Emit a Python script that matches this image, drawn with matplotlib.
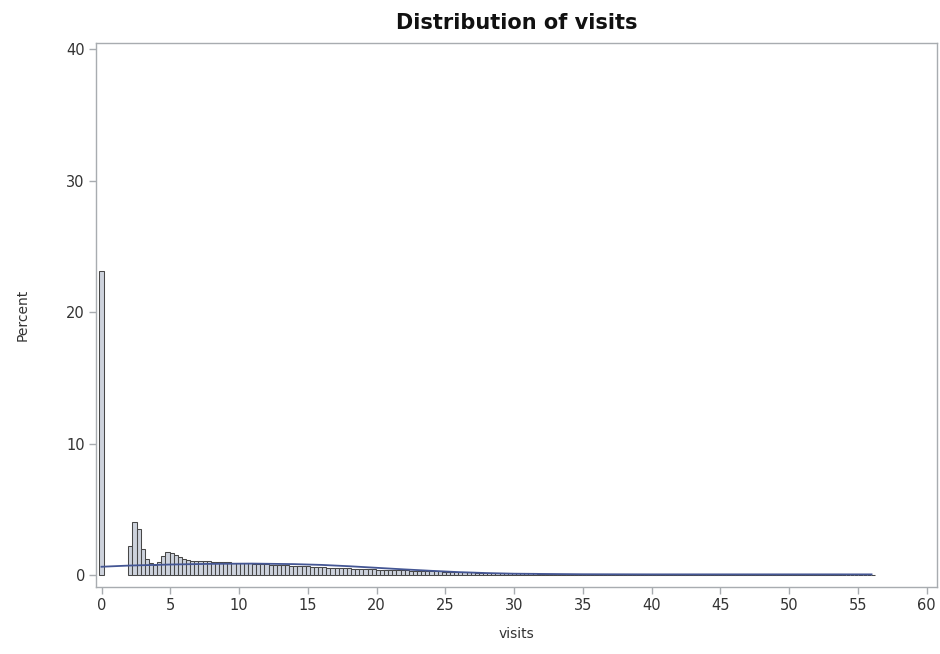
import numpy as np
import matplotlib
matplotlib.use("Agg")
import matplotlib.pyplot as plt

# Bin midpoints (bin width 0.3) and percent heights
bin_width = 0.3
bin_mid = [round(i * bin_width, 1) for i in range(188)]
percent = [
    23.1, 0, 0, 0, 0, 0, 0, 2.2, 4.0, 3.5,
    2.0, 1.2, 0.95, 0.8, 1.0, 1.45, 1.75, 1.7, 1.55, 1.35,
    1.2, 1.15, 1.1, 1.1, 1.08, 1.05, 1.05, 1.02, 1.0, 1.0,
    0.98, 0.96, 0.95, 0.93, 0.92, 0.9, 0.88, 0.87, 0.85, 0.84,
    0.82, 0.8, 0.78, 0.77, 0.75, 0.74, 0.72, 0.7, 0.69, 0.67,
    0.65, 0.64, 0.62, 0.6, 0.59, 0.57, 0.56, 0.54, 0.53, 0.51,
    0.5, 0.49, 0.47, 0.46, 0.45, 0.44, 0.43, 0.42, 0.41, 0.4,
    0.39, 0.38, 0.37, 0.36, 0.35, 0.34, 0.33, 0.32, 0.31, 0.3,
    0.29, 0.28, 0.27, 0.26, 0.25, 0.25, 0.24, 0.23, 0.22, 0.21,
    0.2, 0.19, 0.18, 0.18, 0.17, 0.16, 0.16, 0.15, 0.15, 0.14,
    0.14, 0.13, 0.13, 0.12, 0.12, 0.12, 0.11, 0.11, 0.11, 0.1,
    0.1, 0.1, 0.1, 0.09, 0.09, 0.09, 0.09, 0.09, 0.08, 0.08,
    0.08, 0.08, 0.08, 0.08, 0.08, 0.08, 0.08, 0.08, 0.08, 0.08,
    0.07, 0.07, 0.07, 0.07, 0.07, 0.07, 0.07, 0.07, 0.07, 0.07,
    0.07, 0.07, 0.07, 0.07, 0.07, 0.06, 0.06, 0.06, 0.06, 0.06,
    0.06, 0.06, 0.06, 0.06, 0.06, 0.06, 0.06, 0.06, 0.06, 0.06,
    0.05, 0.05, 0.05, 0.05, 0.05, 0.05, 0.05, 0.05, 0.05, 0.05,
    0.05, 0.05, 0.05, 0.05, 0.05, 0.05, 0.05, 0.05, 0.05, 0.05,
    0.04, 0.04, 0.04, 0.04, 0.04, 0.04, 0.04, 0.04,
]

# Fitted density curve
curve_x = [0, 2, 5, 8, 11, 14, 16, 18, 20, 22, 24, 26, 28, 30, 35, 40, 45, 50, 56]
curve_y = [0.63, 0.72, 0.8, 0.85, 0.87, 0.83, 0.77, 0.67, 0.55, 0.43, 0.32,
           0.22, 0.15, 0.1, 0.06, 0.05, 0.05, 0.05, 0.05]

x_ticks = [0, 5, 10, 15, 20, 25, 30, 35, 40, 45, 50, 55, 60]
y_ticks = [0, 10, 20, 30, 40]

fig = plt.figure(figsize=(9.4, 6.54), dpi=100)
ax = fig.add_axes([96 / 940, 1 - 587 / 654, (937 - 96) / 940, (587 - 43) / 654])

# empty bins are not drawn
mids = [m for m, p in zip(bin_mid, percent) if p > 0]
vals = [p for p in percent if p > 0]
ax.bar(mids, vals, width=bin_width, color="#CDD2DC",
       edgecolor="#474747", linewidth=0.75, zorder=2)
ax.plot(curve_x, curve_y, color="#445694", linewidth=1.3, zorder=3)

ax.set_xlim(-0.4, 60.76)
ax.set_ylim(-0.91, 40.46)
ax.set_xticks(x_ticks)
ax.set_yticks(y_ticks)

frame_col = "#A8ACB0"
for s in ax.spines.values():
    s.set_color(frame_col)
    s.set_linewidth(1.0)
ax.tick_params(axis="both", direction="out", length=5, width=1,
               color=frame_col, labelcolor="#333333", labelsize=10.5, pad=3)

ax.set_xlabel("visits", fontsize=10, color="#333333", labelpad=10)
ax.set_ylabel("Percent", fontsize=10, color="#333333", labelpad=26)
ax.set_title("Distribution of visits", fontsize=15, fontweight="bold",
             color="#111111", pad=10)

fig.savefig("out.png", dpi=100)
